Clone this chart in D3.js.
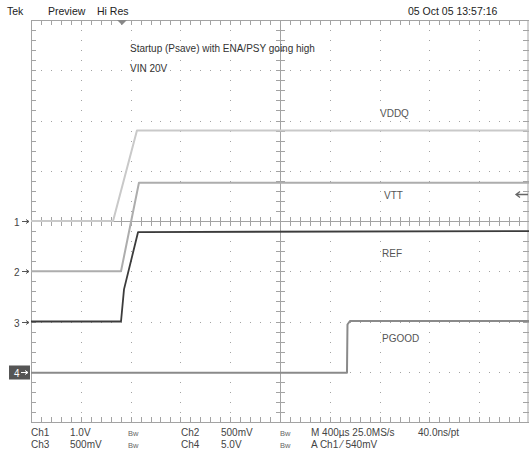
<!DOCTYPE html>
<html><head><meta charset="utf-8">
<script src="https://cdn.jsdelivr.net/npm/d3@7"></script>
<style>body{margin:0;background:#fff}svg{display:block;font-family:"Liberation Sans",Arial,sans-serif}</style>
</head><body><svg id="c" width="529" height="451"></svg>
<script>
// time in µs from screen left (M 400µs/div), volts per channel
const vddqT = [0, 659, 851, 4000];
const vddqV = [0, 0, 1.8, 1.8];
const vttT = [0, 723, 867, 4000];
const vttV = [0, 0, 0.88, 0.88];
const refT = [0, 723, 747, 860, 4000];
const refV = [0, 0, 0.32, 0.89, 0.9];
const pgoodT = [0, 2538, 2542, 2562, 4000];
const pgoodV = [-0.1, -0.1, 4.7, 5.05, 5.05];
const channels = [
  {name:"VDDQ", ch:"1", vdiv:1.0, offset:0, t:vddqT, v:vddqV, color:"#c9c9c9", w:2},
  {name:"VTT", ch:"2", vdiv:0.5, offset:-1, t:vttT, v:vttV, color:"#adadad", w:2},
  {name:"REF", ch:"3", vdiv:0.5, offset:-2, t:refT, v:refV, color:"#3c3c3c", w:1.8},
  {name:"PGOOD", ch:"4", vdiv:5.0, offset:-3, t:pgoodT, v:pgoodV, color:"#8a8a8a", w:2}
];
const labels = [
  {text:"VDDQ", x:380, y:117}, {text:"VTT", x:384, y:199},
  {text:"REF", x:382, y:257}, {text:"PGOOD", x:382, y:342}
];
const header = ["Tek", "Preview", "Hi Res"];
const dateText = "05 Oct 05 13:57:16";
const titleLines = ["Startup (Psave) with ENA/PSY going high", "VIN 20V"];
const footRow1 = [["Ch1",31],["1.0V",70],["Bw",128],["Ch2",181],["500mV",221],["Bw",280],["M 400µs 25.0MS/s",311],["40.0ns/pt",418]];
const footRow2 = [["Ch3",31],["500mV",70],["Bw",128],["Ch4",181],["5.0V",221],["Bw",280],["A  Ch1  ⁄  540mV",311]];
const trigLevel = 0.54; // Ch1 trigger level, V
const trigTime = 731;   // µs

const svg = d3.select("#c");
const L=31, R=529, T=20, B=422;
const x = d3.scaleLinear().domain([0,4000]).range([L,R]);
const ydiv = d3.scaleLinear().domain([-4,4]).range([B,T]);
const gridC = "#a3a3a3";
const g = svg.append("g");

// dotted grid
const xs = d3.range(1,10).map(i=>x(i*400));
const ysd = d3.range(-3,4).map(d=>ydiv(d));
const dy = (B-T)/40;
xs.forEach((xx,i)=>{ if(i===4) return;
  d3.range(0,41).forEach(k=>g.append("rect").attr("x",Math.round(xx)).attr("y",Math.round(T+k*dy)).attr("width",1).attr("height",1).attr("fill",gridC));
});
ysd.forEach((yy,i)=>{ if(i===3) return;
  d3.range(L, R, 9.96).forEach(xx=>g.append("rect").attr("x",Math.round(xx)).attr("y",Math.round(yy)).attr("width",1).attr("height",1).attr("fill",gridC));
});
// border
g.append("rect").attr("x",L+0.5).attr("y",T+0.5).attr("width",R-L-1.5).attr("height",B-T).attr("fill","none").attr("stroke",gridC);
// center lines
const cx = Math.round(x(2000)), cy = Math.round(ydiv(0));
g.append("line").attr("x1",L).attr("x2",R).attr("y1",cy+0.5).attr("y2",cy+0.5).attr("stroke",gridC);
g.append("line").attr("x1",cx+0.5).attr("x2",cx+0.5).attr("y1",T).attr("y2",B).attr("stroke",gridC);
// ticks
const minorX = d3.range(0,4001,80).map(t=>x(t));
const minorY = d3.range(-4,4.01,0.2).map(d=>ydiv(d));
minorX.forEach(xx=>{
  const px=Math.round(xx)+0.5;
  g.append("line").attr("x1",px).attr("x2",px).attr("y1",cy-4).attr("y2",cy+5).attr("stroke",gridC);
  g.append("line").attr("x1",px).attr("x2",px).attr("y1",T).attr("y2",T+5).attr("stroke",gridC);
  g.append("line").attr("x1",px).attr("x2",px).attr("y1",B-5).attr("y2",B).attr("stroke",gridC);
});
minorY.forEach(yy=>{
  const py=Math.round(yy)+0.5;
  g.append("line").attr("y1",py).attr("y2",py).attr("x1",cx-4).attr("x2",cx+5).attr("stroke",gridC);
  g.append("line").attr("y1",py).attr("y2",py).attr("x1",L).attr("x2",L+5).attr("stroke",gridC);
  g.append("line").attr("y1",py).attr("y2",py).attr("x1",R-6).attr("x2",R).attr("stroke",gridC);
});

// traces
channels.forEach(c=>{
  const yv = v => ydiv(c.offset + v/c.vdiv);
  const pts = c.t.map((t,i)=>[x(t), yv(c.v[i])]);
  svg.append("path").attr("d", d3.line()(pts)).attr("fill","none")
    .attr("stroke",c.color).attr("stroke-width",c.w).attr("stroke-linejoin","round");
});

// trace labels
labels.forEach(l=>svg.append("text").attr("x",l.x).attr("y",l.y).attr("font-size",10).attr("fill","#555").text(l.text));

// channel ground markers
channels.forEach(c=>{
  const yy = Math.round(ydiv(c.offset))+0.5;
  if(c.ch==="4"){
    svg.append("rect").attr("x",9).attr("y",yy-7).attr("width",21).attr("height",14).attr("fill","#555");
    svg.append("text").attr("x",14).attr("y",yy+4).attr("font-size",10).attr("fill","#fff").text(c.ch);
    svg.append("path").attr("d",`M21,${yy}H28M25,${yy-2}L28,${yy}L25,${yy+2}`).attr("stroke","#fff").attr("fill","none");
  } else {
    svg.append("text").attr("x",14).attr("y",yy+4).attr("font-size",10).attr("fill","#444").text(c.ch);
    svg.append("path").attr("d",`M22,${yy}H29M26,${yy-2}L29,${yy}L26,${yy+2}`).attr("stroke","#555").attr("fill","none");
  }
});

// trigger level arrow (right) and trigger position (top)
const ty = Math.round(ydiv(trigLevel/1.0))+0.5;
svg.append("path").attr("d",`M516,${ty}H528M520,${ty-3}L516,${ty}L520,${ty+3}`).attr("stroke","#666").attr("stroke-width",1.3).attr("fill","none");
const tx = x(trigTime);
svg.append("path").attr("d",`M${tx-5},${T}L${tx+5},${T}L${tx},${T+5}Z`).attr("fill","#888");

// header text
[[header[0],7],[header[1],48],[header[2],97]].forEach(([t,xx])=>svg.append("text").attr("x",xx).attr("y",15).attr("font-size",10.5).attr("fill","#222").text(t));
svg.append("text").attr("x",408).attr("y",15).attr("font-size",10.5).attr("fill","#222").text(dateText);
titleLines.forEach((t,i)=>svg.append("text").attr("x",130).attr("y",52+i*20).attr("font-size",10).attr("fill","#333").text(t));

// footer
[footRow1, footRow2].forEach((row,ri)=>row.forEach(([t,xx])=>{
  const bw = t==="Bw";
  svg.append("text").attr("x",xx).attr("y",436+ri*12).attr("font-size",bw?7.5:10).attr("fill",bw?"#666":"#444").text(t);
}));
</script></body></html>
